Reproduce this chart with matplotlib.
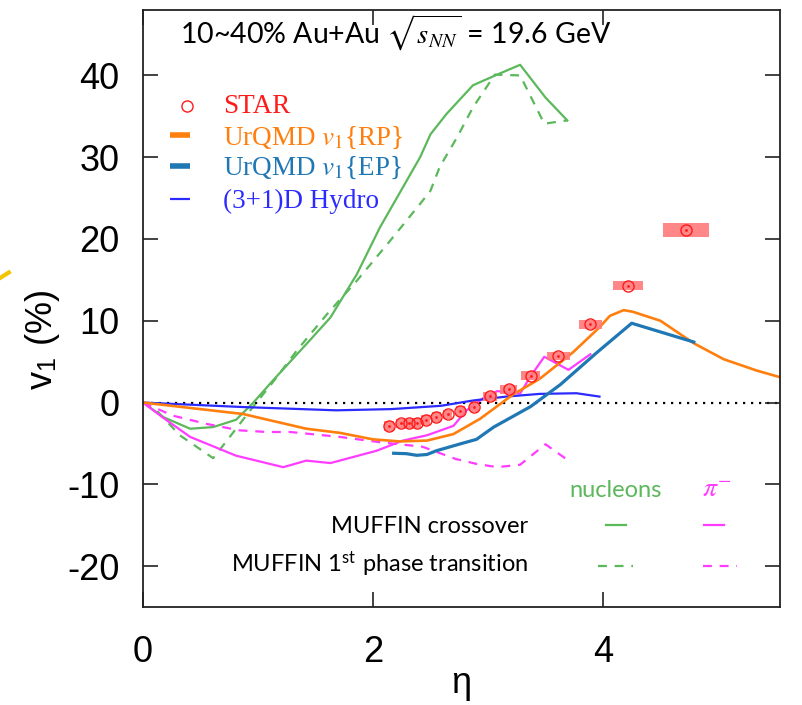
import numpy as np
import matplotlib
matplotlib.use("Agg")
import matplotlib.pyplot as plt
from matplotlib.lines import Line2D

plt.rcParams['mathtext.fontset'] = 'stix'
plt.rcParams['axes.unicode_minus'] = False

# STAR data with systematic boxes
eta_star = [2.14, 2.24, 2.31, 2.38, 2.46, 2.55, 2.65, 2.76, 2.88, 3.02, 3.18, 3.37, 3.61, 3.89, 4.22, 4.72]
v1_star = [-2.85, -2.55, -2.55, -2.5, -2.1, -1.8, -1.45, -1.05, -0.5, 0.75, 1.6, 3.3, 5.7, 9.6, 14.3, 21.1]
sys_dx = [0.04] * 9 + [0.06, 0.075, 0.085, 0.10, 0.10, 0.13, 0.20]
sys_dy = [0.6] * 9 + [0.6, 0.6, 0.5, 0.5, 0.55, 0.55, 0.8]

# UrQMD
eta_rp = [0, 0.87, 1.42, 1.71, 2.0, 2.23, 2.47, 2.70, 2.93, 3.22, 3.45, 3.74, 3.97, 4.06, 4.18, 4.26, 4.50, 4.79, 5.05, 5.34, 5.54]
v1_rp = [0, -1.4, -3.2, -3.7, -4.5, -4.75, -4.65, -3.85, -2.0, 1.0, 2.9, 6.15, 9.2, 10.6, 11.3, 11.1, 10.0, 7.25, 5.3, 3.9, 3.1]
eta_ep = [2.18, 2.29, 2.38, 2.47, 2.55, 2.76, 2.90, 3.05, 3.37, 3.63, 3.95, 4.25, 4.79]
v1_ep = [-6.2, -6.25, -6.45, -6.35, -5.9, -5.05, -4.5, -3.0, -0.5, 2.2, 6.15, 9.7, 7.4]

# (3+1)D hydro
eta_hydro = [0, 0.87, 1.68, 2.16, 2.59, 2.87, 3.16, 3.45, 3.77, 3.97]
v1_hydro = [0, -0.55, -0.95, -0.8, -0.4, 0.25, 0.73, 1.06, 1.14, 0.73]

# MUFFIN nucleons
eta_nuc_co = [0, 0.18, 0.41, 0.61, 0.81, 0.96, 1.13, 1.45, 1.63, 1.86, 2.06, 2.41, 2.50, 2.64, 2.87, 3.08, 3.28, 3.50, 3.69]
v1_nuc_co = [0, -1.8, -3.2, -3.0, -2.1, 0.0, 2.7, 7.6, 10.4, 15.7, 21.4, 30.0, 32.8, 35.3, 38.8, 40.1, 41.3, 37.3, 34.5]
eta_nuc_pt = [0, 0.12, 0.32, 0.61, 0.73, 0.93, 1.13, 1.34, 1.60, 1.86, 2.15, 2.41, 2.50, 2.58, 2.73, 2.87, 3.06, 3.28, 3.39, 3.49, 3.69]
v1_nuc_pt = [0, -1.0, -4.0, -6.8, -4.65, -1.0, 2.5, 6.4, 10.8, 14.9, 19.8, 24.3, 25.9, 28.8, 32.4, 36.1, 40.1, 40.0, 36.9, 34.1, 34.5]

# MUFFIN pi-
eta_pi_co = [0, 0.17, 0.41, 0.81, 1.22, 1.42, 1.63, 2.03, 2.26, 2.47, 2.70, 2.81, 2.96, 3.08, 3.28, 3.37, 3.49, 3.70, 3.89]
v1_pi_co = [0, -1.8, -4.2, -6.5, -7.9, -7.1, -7.4, -5.9, -4.65, -4.0, -2.85, -1.0, 0.55, 1.4, 1.1, 3.2, 5.6, 4.0, 5.9]
eta_pi_pt = [0, 0.26, 0.55, 0.84, 1.08, 1.28, 1.71, 2.06, 2.43, 2.72, 2.90, 3.08, 3.28, 3.50, 3.70]
v1_pi_pt = [0, -1.6, -2.6, -3.4, -3.6, -3.6, -4.2, -4.85, -5.4, -6.9, -7.5, -7.9, -7.6, -5.1, -7.1]

c_green = '#5bb85b'
c_pink = '#ff3cff'
c_orange = '#ff7f0e'
c_ep = '#1f77b4'
c_hydro = '#2b2bff'
c_star = '#ff1a1a'

fig = plt.figure(figsize=(8.02, 7.05), dpi=100)
ax = fig.add_axes([0.1783, 0.139, 0.7943, 0.8468])

ax.axhline(0, color='black', lw=1.6, dashes=(1, 2.6), zorder=1)

ax.plot(eta_nuc_co, v1_nuc_co, color=c_green, lw=1.6)
ax.plot(eta_nuc_pt, v1_nuc_pt, color=c_green, lw=1.6, dashes=(4, 3.5))
ax.plot(eta_pi_co, v1_pi_co, color=c_pink, lw=1.6)
ax.plot(eta_pi_pt, v1_pi_pt, color=c_pink, lw=1.6, dashes=(4, 3.5))
ax.plot(eta_hydro, v1_hydro, color=c_hydro, lw=1.6)
ax.plot(eta_rp, v1_rp, color=c_orange, lw=1.9)
ax.plot(eta_ep, v1_ep, color=c_ep, lw=2.3)

# systematic boxes
eta_s = np.array(eta_star)
v_s = np.array(v1_star)
dx = np.array(sys_dx)
dy = np.array(sys_dy)
ax.bar(eta_s, 2 * dy, width=2 * dx, bottom=v_s - dy, color='#ff7a7a', alpha=0.9, lw=0, zorder=4)
ax.plot(eta_s, v_s, 'o', ms=8, mfc='none', mec=c_star, mew=1.0, zorder=5)
ax.plot(eta_s, v_s, '.', ms=2, color=c_star, zorder=5)

ax.set_xlim(0, 5.54)
ax.set_ylim(-25, 48)
ax.set_xticks([0, 2, 4])
ax.set_yticks([-20, -10, 0, 10, 20, 30, 40])
ax.tick_params(direction='in', length=11, width=1.2, top=True, right=True,
               labelsize=26, color='#222222')
ax.tick_params(axis='y', pad=17)
ax.tick_params(axis='x', pad=20)
for lab in ax.get_xticklabels() + ax.get_yticklabels():
    lab.set_family('Liberation Sans')
for s in ax.spines.values():
    s.set_linewidth(1.3)
    s.set_color('#222222')

ax.set_xlabel('η', family='Liberation Sans', fontsize=26, labelpad=-3)
ax.set_ylabel(r'v$_\mathregular{1}$ (%)', family='Liberation Sans', fontsize=26)
ax.yaxis.set_label_coords(-0.127, 0.448)

ax.text(0.058, 0.9427, r'10~40% Au+Au $\sqrt{s_{NN}}$ = 19.6 GeV', transform=ax.transAxes,
        family='Lato', fontsize=20.5, va='baseline', ha='left')

# model / data key, upper left
tr = ax.transAxes
serif = dict(family='Liberation Serif', fontsize=19.5, va='baseline', ha='left', transform=tr)
ax.plot([0.069], [0.839], 'o', ms=8, mfc='none', mec=c_star, mew=1.0, transform=tr)
ax.text(0.126, 0.827, 'STAR', color=c_star, **serif)
ax.plot([0.042, 0.074], [0.790, 0.790], color=c_orange, lw=4, transform=tr, solid_capstyle='butt')
ax.text(0.126, 0.7735, r'UrQMD $v_1${RP}', color=c_orange, **serif)
ax.plot([0.042, 0.074], [0.738, 0.738], color=c_ep, lw=4, transform=tr, solid_capstyle='butt')
ax.text(0.126, 0.724, r'UrQMD $v_1${EP}', color=c_ep, **serif)
ax.plot([0.042, 0.074], [0.683, 0.683], color=c_hydro, lw=1.6, transform=tr, solid_capstyle='butt')
ax.text(0.126, 0.669, '(3+1)D Hydro', color=c_hydro, **serif)

# MUFFIN key, lower right
sans = dict(family='Lato', fontsize=17, va='baseline', transform=tr)
ax.text(0.6687, 0.185, 'nucleons', color=c_green, ha='left', **sans)
ax.text(0.878, 0.185, r'$\pi^{-}$', color=c_pink, ha='left', fontsize=20, va='baseline', transform=tr)
ax.text(0.604, 0.124, 'MUFFIN crossover', color='black', ha='right', **sans)
ax.text(0.604, 0.0575, r'MUFFIN 1$^\mathregular{st}$ phase transition', color='black', ha='right', **sans)
ax.plot([0.727, 0.758], [0.138, 0.138], color=c_green, lw=1.6, transform=tr)
ax.plot([0.880, 0.912], [0.138, 0.138], color=c_pink, lw=1.6, transform=tr)
ax.plot([0.714, 0.769], [0.068, 0.068], color=c_green, lw=1.6, dashes=(4, 3.5), transform=tr)
ax.plot([0.879, 0.932], [0.068, 0.068], color=c_pink, lw=1.6, dashes=(4, 3.5), transform=tr)

# small yellow stroke at the left margin
fig.add_artist(Line2D([0.0, 0.011], [0.6057, 0.6135], color='#f5c400', lw=3, transform=fig.transFigure))

fig.savefig('out.png', dpi=100)
